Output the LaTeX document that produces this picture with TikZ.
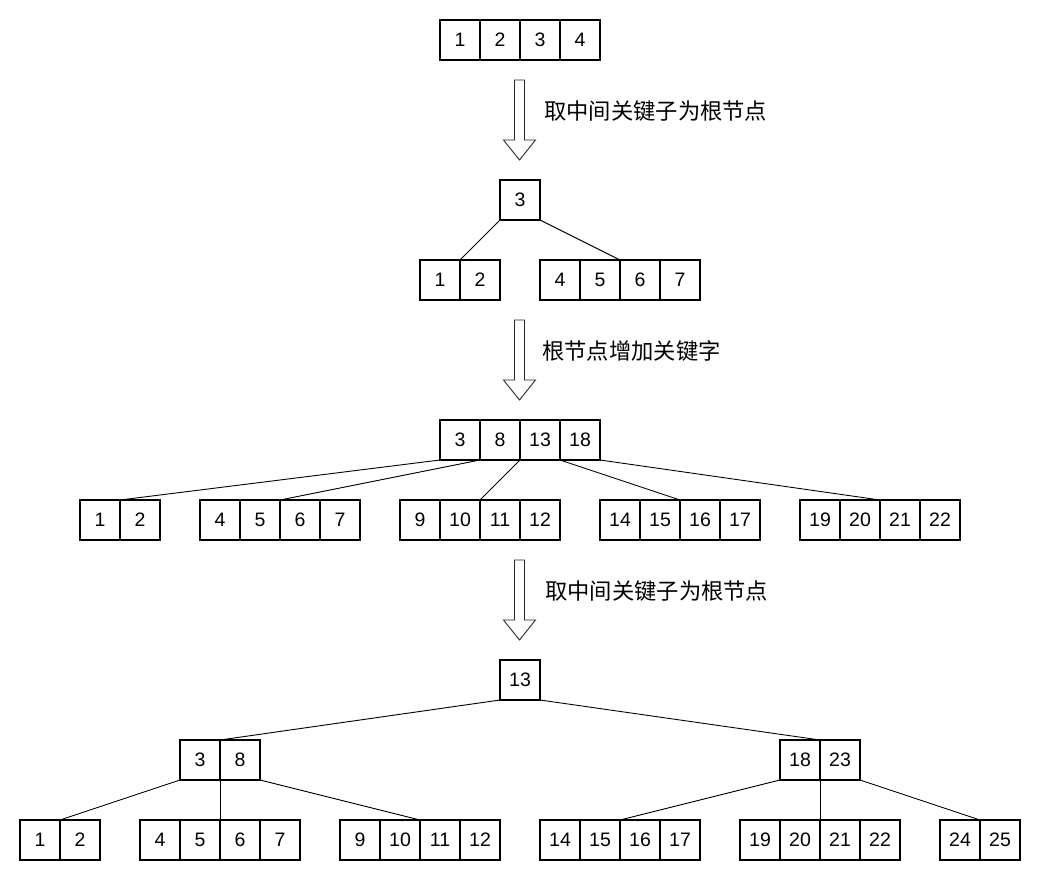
\documentclass[tikz,border=0pt]{standalone}
\usepackage{fontspec}
\setmainfont{Liberation Sans}
\newfontfamily\cjk{Noto Sans CJK SC}
\tikzset{
  cell/.style={draw, line width=1.1pt, minimum size=40pt, inner sep=0pt, outer sep=0pt, font=\fontsize{19.5}{22}\selectfont},
  link/.style={line width=0.9pt},
  hollow/.style={draw=black!85, fill=white, line width=0.9pt, line join=miter},
  lbl/.style={anchor=west, inner sep=0pt, font=\cjk\fontsize{22.3}{25}\selectfont}
}
\begin{document}
\begin{tikzpicture}[x=1pt, y=-1pt]
	\useasboundingbox (0,0) rectangle (1041,881);
	% full node
	\foreach \v [count=\i] in {1,2,3,4} \node[cell] (a\i) at (420+40*\i, 40) {\v};
	\coordinate (arr1) at (519.5,80);
	\draw[hollow] (arr1) ++(-5,0) -- ++(10,0) -- ++(0,60) -- ++(11,0) -- ++(-16,20) -- ++(-16,-20) -- ++(11,0) -- cycle;
	\node[lbl] (txt1) at (544,111) {取中间关键子为根节点};
	% first split
	\node[cell] (b1) at (520,200) {3};
	\foreach \v [count=\i] in {1,2} \node[cell] (c\i) at (400+40*\i, 280) {\v};
	\foreach \v [count=\i] in {4,5,6,7} \node[cell] (d\i) at (520+40*\i, 280) {\v};
	\draw[link] (b1.south west) -- (c1.north east);
	\draw[link] (b1.south east) -- (d2.north east);
	\coordinate (arr2) at (519.5,320);
	\draw[hollow] (arr2) ++(-5,0) -- ++(10,0) -- ++(0,60) -- ++(11,0) -- ++(-16,20) -- ++(-16,-20) -- ++(11,0) -- cycle;
	\node[lbl] (txt2) at (542,351) {根节点增加关键字};
	% full root
	\foreach \v [count=\i] in {3,8,13,18} \node[cell] (e\i) at (420+40*\i, 440) {\v};
	\foreach \v [count=\i] in {1,2} \node[cell] (f\i) at (60+40*\i, 520) {\v};
	\foreach \v [count=\i] in {4,5,6,7} \node[cell] (g\i) at (180+40*\i, 520) {\v};
	\foreach \v [count=\i] in {9,10,11,12} \node[cell] (h\i) at (380+40*\i, 520) {\v};
	\foreach \v [count=\i] in {14,15,16,17} \node[cell] (i\i) at (580+40*\i, 520) {\v};
	\foreach \v [count=\i] in {19,20,21,22} \node[cell] (j\i) at (780+40*\i, 520) {\v};
	\draw[link] (e1.south west) -- (f1.north east);
	\draw[link] (e2.south west) -- (g2.north east);
	\draw[link] (e3.south west) -- (h2.north east);
	\draw[link] (e4.south west) -- (i2.north east);
	\draw[link] (e4.south east) -- (j2.north east);
	\coordinate (arr3) at (519.5,560);
	\draw[hollow] (arr3) ++(-5,0) -- ++(10,0) -- ++(0,60) -- ++(11,0) -- ++(-16,20) -- ++(-16,-20) -- ++(11,0) -- cycle;
	\node[lbl] (txt3) at (545,591) {取中间关键子为根节点};
	% second split
	\node[cell] (k1) at (520,680) {13};
	\foreach \v [count=\i] in {3,8} \node[cell] (l\i) at (160+40*\i, 760) {\v};
	\foreach \v [count=\i] in {18,23} \node[cell] (m\i) at (760+40*\i, 760) {\v};
	\draw[link] (k1.south west) -- (l1.north east);
	\draw[link] (k1.south east) -- (m1.north east);
	\foreach \v [count=\i] in {1,2} \node[cell] (n\i) at (0+40*\i, 840) {\v};
	\foreach \v [count=\i] in {4,5,6,7} \node[cell] (o\i) at (120+40*\i, 840) {\v};
	\foreach \v [count=\i] in {9,10,11,12} \node[cell] (p\i) at (320+40*\i, 840) {\v};
	\foreach \v [count=\i] in {14,15,16,17} \node[cell] (q\i) at (520+40*\i, 840) {\v};
	\foreach \v [count=\i] in {19,20,21,22} \node[cell] (r\i) at (720+40*\i, 840) {\v};
	\foreach \v [count=\i] in {24,25} \node[cell] (s\i) at (920+40*\i, 840) {\v};
	\draw[link] (l1.south west) -- (n1.north east);
	\draw[link] (l1.south east) -- (o2.north east);
	\draw[link] (l2.south east) -- (p2.north east);
	\draw[link] (m1.south west) -- (q2.north east);
	\draw[link] (m1.south east) -- (r2.north east);
	\draw[link] (m2.south east) -- (s1.north east);
\end{tikzpicture}
\end{document}
